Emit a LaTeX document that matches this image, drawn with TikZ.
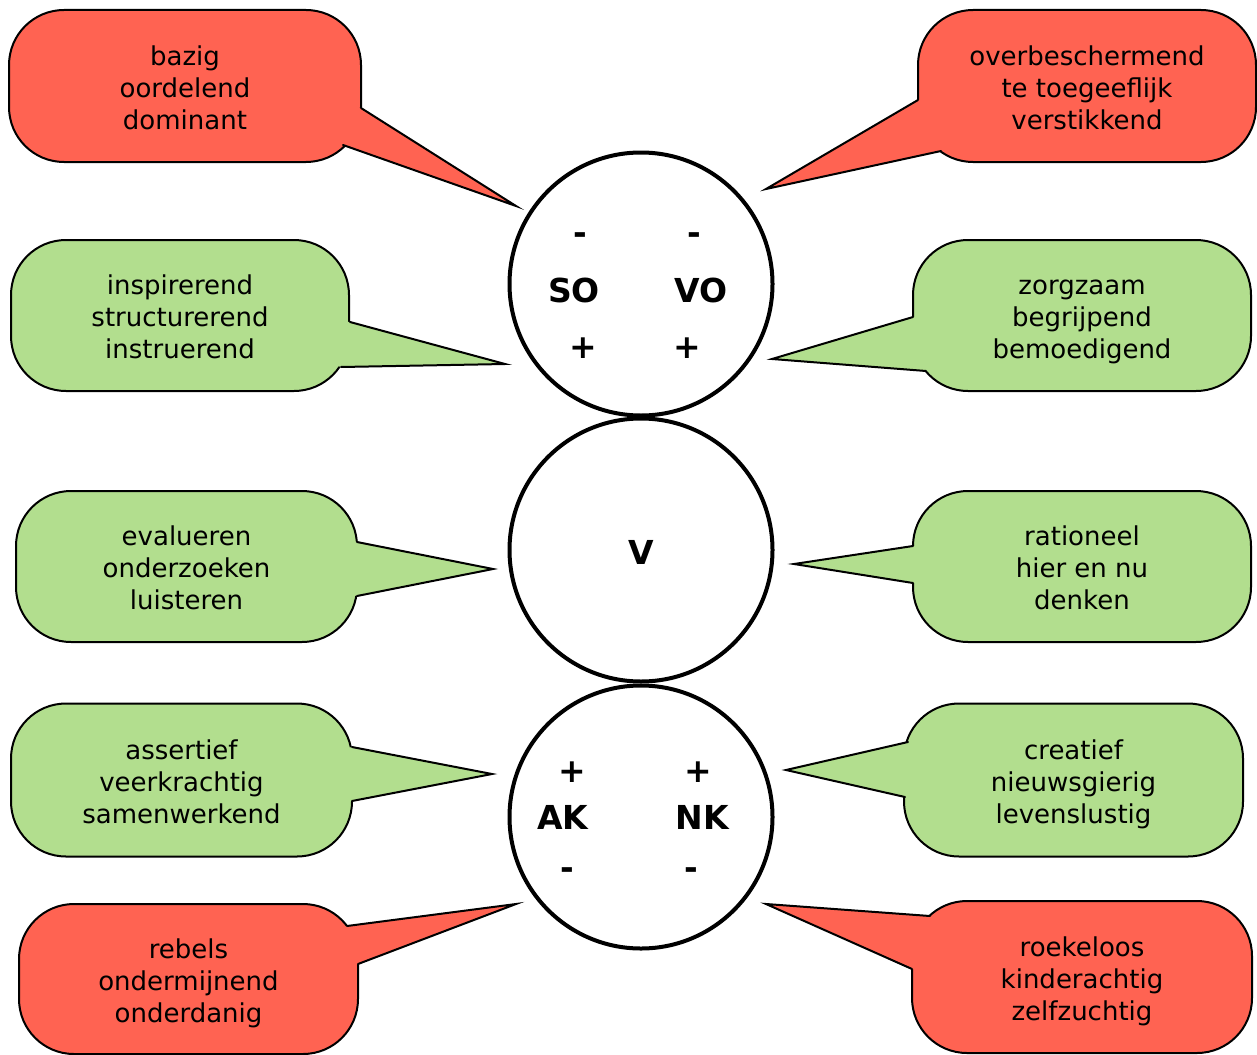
\documentclass[tikz,border=0pt]{standalone}
\usepackage{fontspec}
\setmainfont{DejaVu Sans}
\definecolor{cred}{RGB}{255,99,82}
\definecolor{cgreen}{RGB}{178,222,142}
\tikzset{
  box/.style={draw=black, line width=1pt, rounded corners=27.5pt, inner sep=0pt},
  boxtext/.style={align=center, font=\fontsize{13}{16}\selectfont, inner sep=0pt, yshift=-2.5pt},
  ring/.style={circle, draw=black, line width=2pt, fill=white, minimum size=131.5pt, inner sep=0pt},
  lbl/.style={font=\fontsize{16.5}{18}\selectfont\bfseries, inner sep=0pt},
  side/.style={draw=black, line width=1pt, line cap=round, line join=miter},
}
% #1 name, #2 colour, #3 centre, #4 width, #5 height, #6 text, #7 base1, #8 tip, #9 base2
\newcommand\mycallout[9]{%
  \node[box, fill=#2, minimum width=#4, minimum height=#5] (#1) at #3 {};
  \coordinate (#1-tip) at #8;
  \coordinate (#1-a) at #7;
  \coordinate (#1-b) at #9;
  \fill[#2] (#1-a) -- (#1-tip) -- (#1-b) -- (#1.center) -- cycle;
  \draw[side] (#1-a) -- (#1-tip) -- (#1-b);
  \node[boxtext] (#1-t) at #3 {\strut#6\strut};
}
\begin{document}
\begin{tikzpicture}[x=0.5pt, y=-0.5pt]
\useasboundingbox (0,0) rectangle (1257,1054);

\mycallout{c1}{cred}{(185,86)}{176pt}{76pt}{bazig\\oordelend\\dominant}{(361,108)}{(516,206)}{(343,145)}
\mycallout{c2}{cred}{(1087,86)}{169pt}{76pt}{overbeschermend\\te toegeeflijk\\verstikkend}{(918,100)}{(766,189)}{(941,151)}
\mycallout{c3}{cgreen}{(180,315.5)}{169pt}{75.5pt}{inspirerend\\structurerend\\instruerend}{(350,322)}{(505,364)}{(341,367)}
\mycallout{c4}{cgreen}{(1082,315.5)}{169pt}{75.5pt}{zorgzaam\\begrijpend\\bemoedigend}{(913,317)}{(772,359)}{(926,371)}
\mycallout{c5}{cgreen}{(186.5,566.5)}{170.5pt}{75.5pt}{evalueren\\onderzoeken\\luisteren}{(357,542)}{(493,569)}{(357,596)}
\mycallout{c6}{cgreen}{(1082,566.5)}{169pt}{75.5pt}{rationeel\\hier en nu\\denken}{(913,546)}{(794,564)}{(913,583)}
\mycallout{c7}{cgreen}{(181.5,780)}{170.5pt}{76.5pt}{assertief\\veerkrachtig\\samenwerkend}{(352,747)}{(492,774)}{(352,801)}
\mycallout{c8}{cred}{(188.5,979)}{169.5pt}{75pt}{rebels\\ondermijnend\\onderdanig}{(347,926)}{(516,904)}{(358,964)}
\mycallout{c9}{cgreen}{(1073.5,780)}{169.5pt}{76.5pt}{creatief\\nieuwsgierig\\levenslustig}{(908,742)}{(786,770)}{(905,797)}
\mycallout{c10}{cred}{(1082,977)}{170pt}{76pt}{roekeloos\\kinderachtig\\zelfzuchtig}{(930,916)}{(766,904)}{(912,969)}

\node[ring] (top) at (641,284) {};
\node[ring] (mid) at (641,550) {};
\node[ring] (bot) at (641,817) {};

\node[lbl] (so-m) at (580,239) {-};
\node[lbl] (vo-m) at (694,239) {-};
\node[lbl] (so) at (574,290) {SO};
\node[lbl] (vo) at (701,290) {VO};
\node[lbl] (so-p) at (583,348) {+};
\node[lbl] (vo-p) at (687,348) {+};

\node[lbl] (v) at (641,552) {V};

\node[lbl] (ak-p) at (572,772) {+};
\node[lbl] (nk-p) at (698,772) {+};
\node[lbl] (ak) at (563,817) {AK};
\node[lbl] (nk) at (702,817) {NK};
\node[lbl] (ak-m) at (567,874) {-};
\node[lbl] (nk-m) at (691,874) {-};
\end{tikzpicture}
\end{document}
